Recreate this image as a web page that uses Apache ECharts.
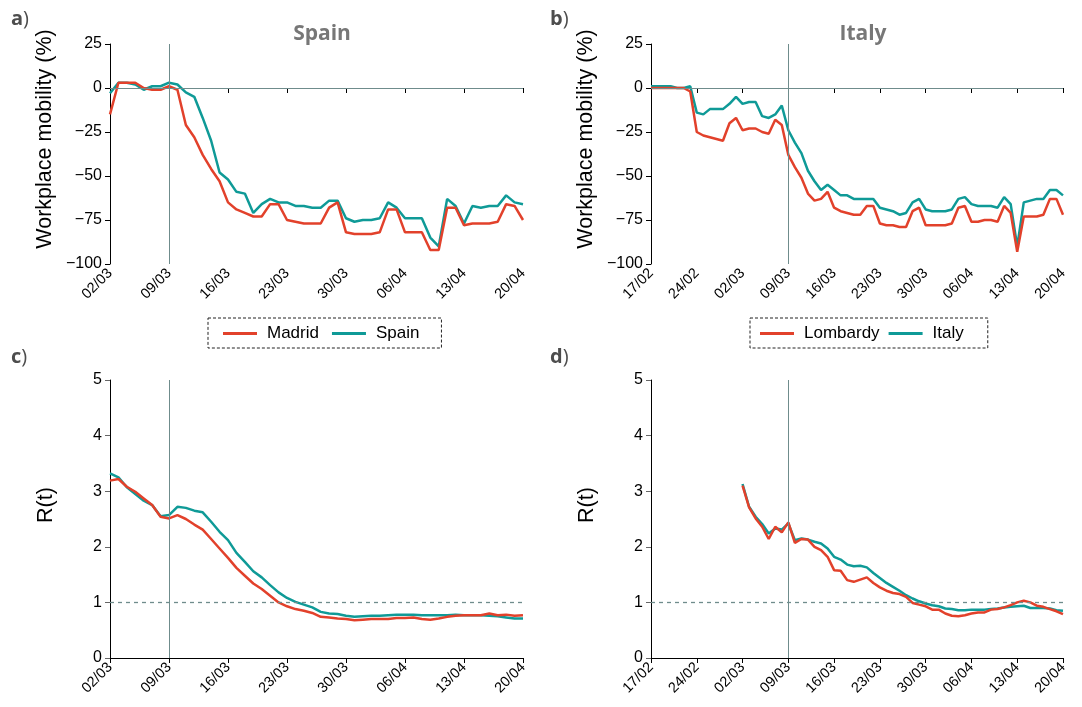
<!DOCTYPE html>
<html>
<head>
<meta charset="utf-8">
<script src="https://cdn.jsdelivr.net/npm/echarts@6/dist/echarts.min.js"></script>
<style>html,body{margin:0;padding:0;background:#fff}#c{width:1082px;height:707px}</style>
</head>
<body>
<div id="c"></div>
<script>
// Dates
var datesSpain = ['02/03','03/03','04/03','05/03','06/03','07/03','08/03','09/03','10/03','11/03','12/03','13/03','14/03','15/03','16/03','17/03','18/03','19/03','20/03','21/03','22/03','23/03','24/03','25/03','26/03','27/03','28/03','29/03','30/03','31/03','01/04','02/04','03/04','04/04','05/04','06/04','07/04','08/04','09/04','10/04','11/04','12/04','13/04','14/04','15/04','16/04','17/04','18/04','19/04','20/04'];
var datesItaly = ['17/02','18/02','19/02','20/02','21/02','22/02','23/02','24/02','25/02','26/02','27/02','28/02','29/02','01/03','02/03','03/03','04/03','05/03','06/03','07/03','08/03','09/03','10/03','11/03','12/03','13/03','14/03','15/03','16/03','17/03','18/03','19/03','20/03','21/03','22/03','23/03','24/03','25/03','26/03','27/03','28/03','29/03','30/03','31/03','01/04','02/04','03/04','04/04','05/04','06/04','07/04','08/04','09/04','10/04','11/04','12/04','13/04','14/04','15/04','16/04','17/04','18/04','19/04','20/04'];

// Workplace mobility (%)
var mobMadrid = [-15,3,3,3,0,-1,-1,1,-1,-21,-28,-38,-46,-53,-65,-69,-71,-73,-73,-66,-66,-75,-76,-77,-77,-77,-68,-65,-82,-83,-83,-83,-82,-69,-69,-82,-82,-82,-92,-92,-68,-68,-78,-77,-77,-77,-76,-66,-67,-75];
var mobSpain = [-3,3,3,2,-1,1,1,3,2,-2.5,-5,-17,-30,-48,-52,-59,-60,-71,-66,-63,-65,-65,-67,-67,-68,-68,-64,-64,-74,-76,-75,-75,-74,-65,-68,-74,-74,-74,-85,-90,-63,-67,-77,-67,-68,-67,-67,-61,-65,-66];
var mobLombardy = [0,0,0,0,0,0,-2,-25,-27,-28,-29,-30,-20,-17,-24,-23,-23,-25,-26,-18,-21,-38,-45,-51,-60,-64,-63,-59,-68,-70,-71,-72,-72,-67,-67,-77,-78,-78,-79,-79,-70,-68,-78,-78,-78,-78,-77,-68,-67,-76,-76,-75,-75,-76,-67,-71,-93,-73,-73,-73,-72,-63,-63,-72];
var mobItaly = [1,1,1,1,0,0,1,-14,-15,-12,-12,-12,-9,-5,-9,-8,-8,-16,-17,-15,-10,-24,-31,-37,-47,-53,-58,-55,-58,-61,-61,-63,-63,-63,-63,-68,-69,-70,-72,-71,-65,-63,-69,-70,-70,-70,-69,-63,-62,-66,-67,-67,-67,-68,-62,-66,-90,-65,-64,-63,-63,-58,-58,-61];

// R(t)
var rMadrid = [3.19,3.22,3.08,2.99,2.87,2.75,2.54,2.51,2.57,2.50,2.40,2.31,2.14,1.97,1.80,1.62,1.48,1.34,1.24,1.12,1.00,0.93,0.88,0.85,0.81,0.74,0.73,0.71,0.70,0.68,0.69,0.70,0.70,0.70,0.72,0.72,0.73,0.70,0.69,0.71,0.74,0.76,0.77,0.77,0.77,0.80,0.77,0.78,0.76,0.77];
var rSpain = [3.32,3.25,3.07,2.95,2.83,2.75,2.55,2.57,2.72,2.70,2.65,2.62,2.45,2.27,2.12,1.89,1.73,1.56,1.45,1.31,1.18,1.08,1.01,0.96,0.91,0.83,0.80,0.79,0.76,0.74,0.75,0.76,0.76,0.77,0.78,0.78,0.78,0.77,0.77,0.77,0.77,0.78,0.77,0.77,0.77,0.76,0.75,0.73,0.71,0.71];
var rLombardy = [null,null,null,null,null,null,null,null,null,null,null,null,null,null,3.10,2.71,2.51,2.36,2.14,2.36,2.26,2.44,2.07,2.14,2.13,2.00,1.94,1.82,1.58,1.57,1.40,1.37,1.41,1.45,1.35,1.27,1.21,1.17,1.15,1.10,0.99,0.96,0.93,0.87,0.87,0.80,0.76,0.75,0.77,0.80,0.82,0.82,0.87,0.88,0.91,0.95,1.00,1.03,1.00,0.94,0.92,0.88,0.84,0.79];
var rItaly = [null,null,null,null,null,null,null,null,null,null,null,null,null,null,3.13,2.72,2.54,2.41,2.24,2.33,2.31,2.42,2.12,2.15,2.13,2.09,2.06,1.97,1.82,1.77,1.68,1.65,1.66,1.63,1.53,1.44,1.35,1.28,1.21,1.13,1.07,1.02,0.98,0.95,0.93,0.89,0.88,0.86,0.86,0.87,0.87,0.87,0.88,0.89,0.91,0.92,0.93,0.94,0.90,0.90,0.90,0.89,0.86,0.85];

var RED = '#e2412b', TEAL = '#0f9a97', REF = '#6f8c8c';
var FONT = 'Liberation Sans';

var grids = [
  {left:110, right:559, top:44, height:220},
  {left:651, right:19, top:44, height:220},
  {left:110, right:559, top:380, height:278},
  {left:651, right:19, top:380, height:278}
];
var xData = [datesSpain, datesItaly, datesSpain, datesItaly];

var chart = echarts.init(document.getElementById('c'), null, {renderer:'canvas'});

function fmtNum(v){ return v < 0 ? '\u2212' + Math.abs(v) : String(v); }

var xAxes = xData.map(function(d, i){
  return {
    type:'category', gridIndex:i, data:d, boundaryGap:false,
    axisLine:{lineStyle:{color:'#000', width:1}},
    axisTick:{interval:6, length:5, lineStyle:{color:'#000'}},
    axisLabel:{interval:6, rotate:45, fontFamily:FONT, fontSize:14.5, color:'#000', margin:7},
    splitLine:{show:false}
  };
});
var yAxes = [0,1,2,3].map(function(i){
  var mob = i < 2;
  return {
    type:'value', gridIndex:i,
    min: mob ? -100 : 0, max: mob ? 25 : 5, interval: mob ? 25 : 1,
    name: mob ? 'Workplace mobility (%)' : 'R(t)',
    nameLocation:'middle', nameGap: mob ? 54 : 53,
    nameTextStyle:{fontFamily:FONT, fontSize:21.5, color:'#000', padding: mob ? [0,0,0,30] : [0,0,0,28]},
    axisLine:{show:true, lineStyle:{color:'#000', width:1}},
    axisTick:{show:true, length:5, lineStyle:{color: mob ? '#000' : '#666'}},
    axisLabel:{fontFamily:FONT, fontSize:16, color:'#000', margin:8, formatter:fmtNum},
    splitLine:{show:false}
  };
});

function lineSeries(name, data, idx, color, mark){
  var s = {
    name:name, type:'line', xAxisIndex:idx, yAxisIndex:idx, data:data,
    symbol:'none', connectNulls:false,
    lineStyle:{color:color, width:2.5}, itemStyle:{color:color},
    animation:false, z: color === RED ? 3 : 2
  };
  if (mark) s.markLine = mark;
  return s;
}
function marks(hy, dashed){
  return {
    silent:true, symbol:'none', label:{show:false}, animation:false,
    data:[
      {xAxis:'09/03', lineStyle:{color:REF, width:1, type:'solid'}},
      {yAxis:hy, lineStyle:{color:REF, width: dashed ? 1.3 : 1, type: dashed ? [4,4] : 'solid'}}
    ]
  };
}

var series = [
  lineSeries('Spain', mobSpain, 0, TEAL, marks(0,false)),
  lineSeries('Madrid', mobMadrid, 0, RED),
  lineSeries('Italy', mobItaly, 1, TEAL, marks(0,false)),
  lineSeries('Lombardy', mobLombardy, 1, RED),
  lineSeries('Spain ', rSpain, 2, TEAL, marks(1,true)),
  lineSeries('Madrid ', rMadrid, 2, RED),
  lineSeries('Italy ', rItaly, 3, TEAL, marks(1,true)),
  lineSeries('Lombardy ', rLombardy, 3, RED)
];

var legendBase = {
  orient:'horizontal', icon:'rect', itemWidth:34, itemHeight:3,
  textStyle:{fontFamily:FONT, fontSize:17, color:'#000', padding:[0,0,0,5]},
  borderColor:'#222', borderWidth:1, borderType:[3,2],
  selectedMode:false
};
var legends = [
  Object.assign({}, legendBase, {left:208, top:318, itemGap:13, padding:[7,22,6,15], data:['Madrid','Spain']}),
  Object.assign({}, legendBase, {left:750, top:318, itemGap:9, padding:[7,24,6,10], data:['Lombardy','Italy']})
];

function panelTitle(letter, x, y){
  return {
    text:'{b|' + letter + '}{p|)}', left:x, top:y,
    textStyle:{rich:{
      b:{fontFamily:'Open Sans', fontWeight:'bold', fontSize:20, color:'#4d4d4d'},
      p:{fontFamily:'Open Sans', fontWeight:'normal', fontSize:20, color:'#4d4d4d'}
    }}
  };
}
var titles = [
  panelTitle('a', 6, 4), panelTitle('b', 545, 4), panelTitle('c', 6, 342), panelTitle('d', 545, 342),
  {text:'Spain', left:317, top:19, textAlign:'center', textStyle:{fontFamily:'Open Sans', fontWeight:'bold', fontSize:21, color:'#777'}},
  {text:'Italy', left:858, top:19, textAlign:'center', textStyle:{fontFamily:'Open Sans', fontWeight:'bold', fontSize:21, color:'#777'}}
];

chart.setOption({
  animation:false,
  backgroundColor:'#fff',
  title:titles,
  legend:legends,
  grid:grids,
  xAxis:xAxes,
  yAxis:yAxes,
  series:series
});
</script>
</body>
</html>
